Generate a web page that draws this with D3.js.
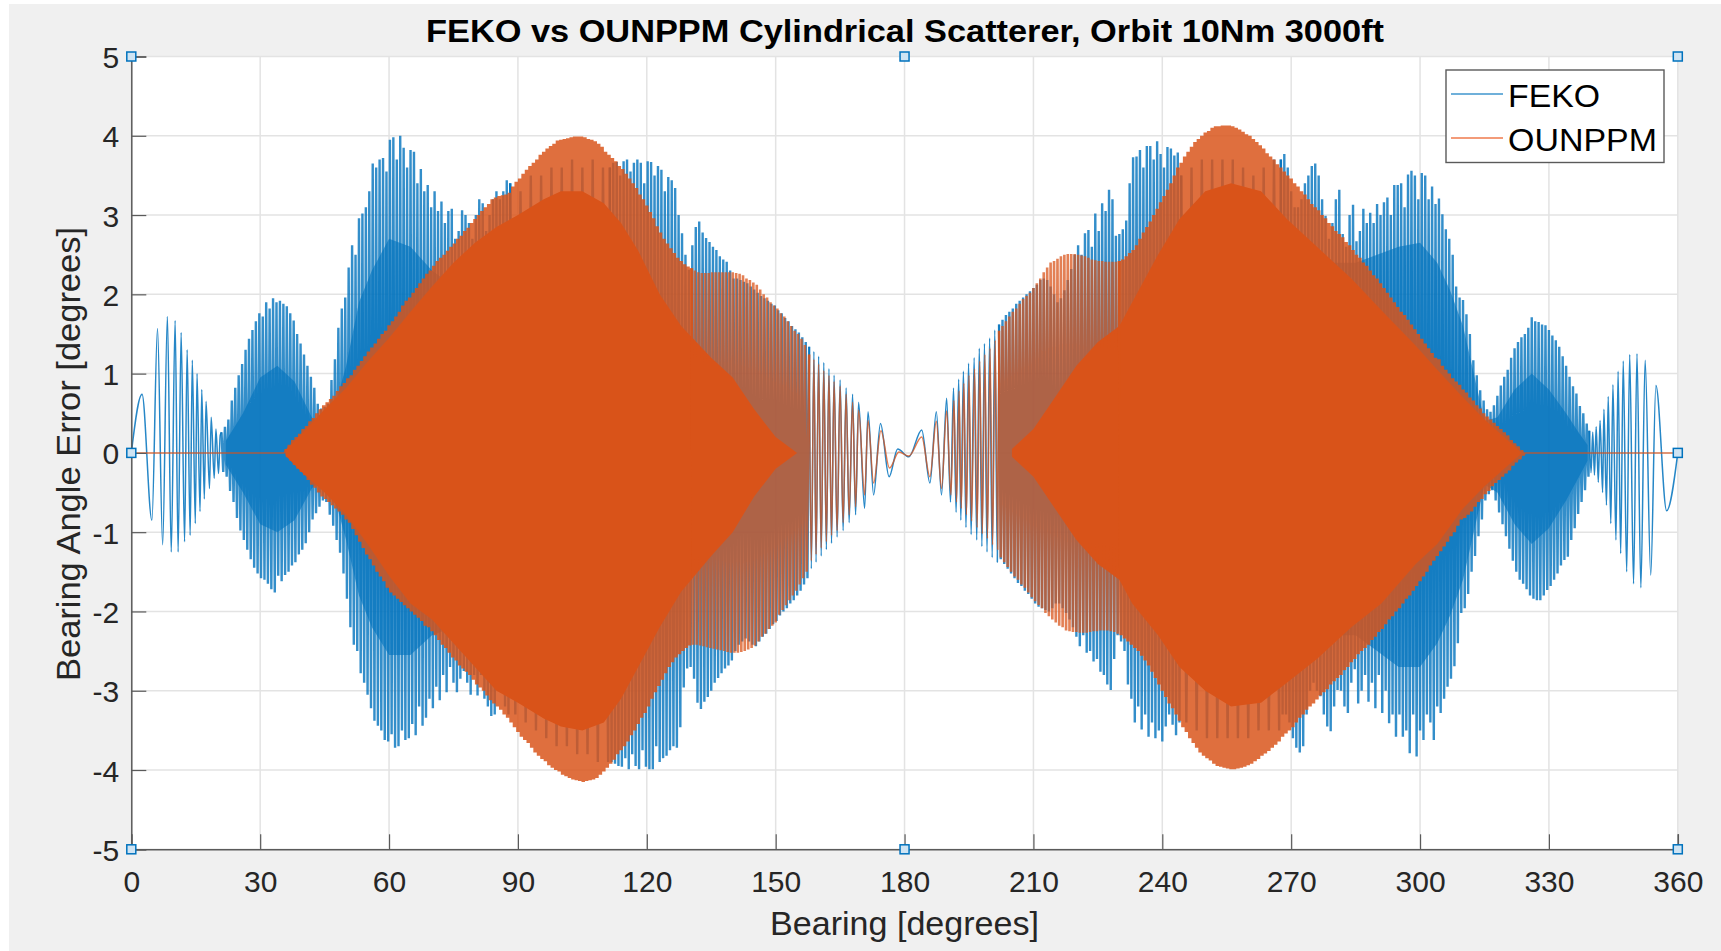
<!DOCTYPE html>
<html>
<head>
<meta charset="utf-8">
<script src="https://cdnjs.cloudflare.com/ajax/libs/d3/7.8.5/d3.min.js"></script>
<style>
html,body{margin:0;padding:0;background:#fff;overflow:hidden}
svg{display:block;font-family:"Liberation Sans",Arial,sans-serif}
.tick text{fill:#262626;font-size:30px}
.blue{fill:none;stroke:#0072BD;stroke-linejoin:bevel}
.bEdge{stroke-width:1.5;stroke-opacity:.85}
.bDense{stroke-width:2.4;stroke-opacity:.8}
.orange{fill:none;stroke:#D95319;stroke-linejoin:bevel}
.thick{stroke-width:3.5;stroke-opacity:.84}
.thin{stroke-width:2.6;stroke-opacity:.74}
.flat{stroke-width:1.5;stroke-opacity:.75}
</style>
</head>
<body>
<svg id="chart" width="1721" height="951"></svg>
<script>
const xTickValues = [0,30,60,90,120,150,180,210,240,270,300,330,360];
const yTickValues = [-5,-4,-3,-2,-1,0,1,2,3,4,5];
const titleText = "FEKO vs OUNPPM Cylindrical Scatterer, Orbit 10Nm 3000ft";
const xLabelText = "Bearing [degrees]";
const yLabelText = "Bearing Angle Error [degrees]";
const handleBearings = [0,180,360,0,360,0,180,360];
const handleErrors = [5,5,5,0,0,-5,-5,-5];

// FEKO: extremes read one by one where the swings are wide
const fekoEdgeLeftBearing = [0,2.5,4.8,6.1,7.3,8.4,9.3,10.2,10.9,11.6,12.4,13,13.7,14.2,14.9,15.3,16,16.4,17,17.4,18.2,18.6,19.3,19.7,20.3,20.7];
const fekoEdgeLeftError = [0,.74,-.85,1.57,-1.16,1.72,-1.25,1.67,-1.25,1.52,-1.12,1.3,-1.04,1.17,-.89,1,-.74,.8,-.58,.65,-.45,.45,-.32,.3,-.26,.22];
const fekoCentreBearing = [157.8,158.3,158.9,159.4,160,160.6,161.2,161.8,162.4,163,163.6,164.3,165,165.7,166.4,167.1,167.9,168.6,169.3,170.7,171.5,172.8,174.4,176.4,178.4,181,184,185.9,187.4,188.6,189.8,190.7,191.4,192,192.6,193.1,193.7,194.3,194.9,195.5,196.2,196.8,197.4,198,198.6,199.2,199.8,200.4,201,201.6];
const fekoCentreError = [1.34,-1.46,1.28,-1.38,1.22,-1.3,1.14,-1.22,1.06,-1.14,.98,-1.06,.92,-.98,.82,-.88,.74,-.78,.64,-.7,.52,-.53,.37,-.3,.05,-.05,.29,-.38,.52,-.53,.69,-.62,.82,-.75,.93,-.85,1.03,-.94,1.13,-1.03,1.2,-1.1,1.32,-1.18,1.38,-1.25,1.45,-1.32,1.55,-1.38];
const fekoEdgeRightBearing = [339.4,339.8,340.2,340.6,341,341.5,341.9,342.5,342.8,343.4,343.8,344.4,344.9,345.6,346.1,346.7,347.3,348.1,348.8,349.7,350.5,351.4,352.4,353.7,354.9,357.4,360];
const fekoEdgeRightError = [.28,-.25,.26,-.28,.33,-.37,.41,-.5,.55,-.66,.71,-.89,.86,-1.1,1.03,-1.27,1.16,-1.5,1.24,-1.65,1.25,-1.7,1.17,-1.54,.85,-.73,0];

// FEKO: dense swings, one reading every 0.4 degrees from 21
const fekoDenseA = [.26,-.24,.33,-.3,.42,-.48,.66,-.62,.82,-.82,.98,-.98,1.12,-1.1,1.3,-1.22,1.44,-1.34,1.55,-1.45,1.66,-1.52,1.76,-1.58,1.72,-1.6,1.9,-1.65,1.82,-1.72,1.95,-1.76,1.9,-1.55,1.92,-1.62,1.88,-1.54,1.85,-1.5,1.76,-1.42,1.67,-1.38,1.5,-1.28,1.38,-1.22,1.24,-1.14,1.1,-1,.96,-.84,.82,-.76,.62,-.68,.56,-.6,.58,-.62,.62,-.78,.92,-.92,1.18,-1.1,1.58,-1.26,1.82,-1.52,1.96,-1.84,2.34,-2.2,2.62,-2.42,2.5,-2.5,2.96,-2.78,3.02,-2.9,3.1,-3.05,3.3,-3.22,3.65,-3.38,3.6,-3.44,3.7,-3.5,3.72,-3.62,3.55,-3.64,3.95,-3.55,3.98,-3.72,3.7,-3.7,4,-3.5,3.85,-3.62,3.6,-3.6,3.82,-3.42,3.8,-3.56,3.4,-3.2,3.58,-3.44,3.3,-3.34,3.38,-3.1,3.1,-3.22,3.3,-2.95,3.05,-3.12,3.17,-2.8,2.9,-3.02,3.05,-2.7,3.08,-2.9,2.7,-3.02,2.8,-2.85,3.06,-2.75,3,-2.9,2.9,-3.05,2.7,-2.8,3,-3.06,3.2,-2.8,3.15,-3.1,2.8,-3.2,3,-3.32,3.2,-3.3,3.3,-3,3.2,-2.9,3.3,-3.2,3.44,-3.3];
// under OUNPPM, one reading every 1.2 degrees from 88.2
const fekoCoveredA = [3.4,-3.3,3.3,-3.4,3.5,-3.5,3.5,-3.6,3.6,-3.7,3.6,-3.7,3.7,-3.8,3.6,-3.8,3.7,-3.9,3.6,-3.9];
// one reading every 0.4 degrees from 111.4
const fekoDenseB = [3.6,-3.9,3.66,-3.92,3.67,-3.95,3.5,-3.96,3.68,-3.85,3.7,-3.99,3.55,-3.8,3.66,-3.95,3.7,-3.99,3.66,-3.75,3.4,-3.96,3.68,-3.99,3.67,-3.99,3.5,-3.7,3.62,-3.9,3.57,-3.85,3.3,-3.82,3.48,-3.75,3.44,-3.7,3.34,-3.72,3,-3.46,2.77,-2.96,2.5,-2.72,2.31,-2.7,2.62,-2.85,2.85,-3.15,2.92,-3.23,2.78,-3.14,2.71,-3.08,2.66,-3,2.6,-2.9,2.56,-2.84,2.48,-2.78,2.44,-2.72,2.41,-2.68,2.3,-2.62,2.2,-2.5,2.2,-2.42,2.18,-2.38,2.16,-2.34,2.14,-2.38,2.1,-2.42,2.06,-2.44,2.02,-2.38,1.98,-2.32,1.95,-2.28,1.92,-2.22,1.88,-2.16,1.86,-2.12,1.8,-2.05,1.76,-2,1.7,-1.96,1.66,-1.9,1.6,-1.86,1.56,-1.8,1.52,-1.74,1.46,-1.66,1.4,-1.58];
// one reading every 0.4 degrees from 202
const fekoDenseC = [1.62,-1.34,1.68,-1.4,1.74,-1.46,1.78,-1.52,1.82,-1.58,1.88,-1.64,1.92,-1.68,1.96,-1.74,2,-1.78,2.04,-1.84,2.08,-1.9,2.12,-1.94,2.18,-1.96,2.2,-1.98,2.18,-2,2.1,-1.96,2,-1.9,1.9,-1.9,1.95,-1.96,2.05,-2.02,2.18,-2.1,2.32,-2.2,2.5,-2.32,2.62,-2.44,2.5,-2.3,2.77,-2.52,2.81,-2.5,2.6,-2.63,3.02,-2.6,2.8,-2.76,3.15,-2.8,3.05,-2.92,3.32,-2.99,3.2,-2.6,2.74,-2.3,2.76,-2.38,2.82,-2.5,2.93,-2.92,3.4,-3.1,3.73,-3.4,3.74,-3.2,3.82,-3.49,3.6,-3.3,3.87,-3.58,3.87,-3.4,3.7,-3.6,3.93,-3.5,3.77,-3.64,3.6,-3.45,3.86,-3.3,3.84,-3.43,3.75,-3.56,3.79,-3.4];
// under OUNPPM, one reading every 1.2 degrees from 244.4
const fekoCoveredB = [3.5,-3.4,3.6,-3.5,3.7,-3.6,3.7,-3.6,3.7,-3.6,3.7,-3.6,3.6,-3.6,3.5,-3.5,3.6,-3.5,3.7,-3.5];
// one reading every 0.4 degrees from 267.6
const fekoDenseD = [3.7,-3.3,3.77,-3.3,3.6,-3.4,3.3,-3.6,3.1,-3.72,3.1,-3.78,3.2,-3.7,3.4,-3.3,3.5,-3,3.62,-2.9,3.65,-3,3.5,-3.07,3.2,-3.3,2.99,-3.45,2.7,-3.51,2.9,-3.2,3.2,-2.99,3.32,-3,2.76,-3.2,2.6,-3.28,3,-2.9,3.13,-2.73,2.67,-3.16,2.8,-3,3.08,-2.8,2.9,-3.14,3.03,-2.9,2.9,-3.22,3.14,-2.8,3,-3.28,3.16,-3,3.22,-3.41,3,-3.3,3.38,-3.58,3.38,-3.3,3.4,-3.58,3.1,-3.5,3.51,-3.79,3.56,-3.3,3.5,-3.83,3.2,-3.5,3.53,-3.62,3.5,-3.3,3.2,-3.4,3.36,-3.62,3.14,-3.2,3.21,-3.28,3.01,-3.1,2.82,-2.95,2.7,-2.85,2.5,-2.69,2.1,-2.4,1.96,-2.02,1.93,-1.96,1.75,-1.78,1.5,-1.5,1.17,-1.3,.98,-1.05,.79,-.84,.66,-.6,.55,-.52,.52,-.47,.6,-.6,.72,-.75,.85,-.9,.96,-1.05,1.05,-1.21,1.2,-1.36,1.32,-1.5,1.4,-1.6,1.46,-1.65,1.5,-1.72,1.58,-1.8,1.71,-1.84,1.66,-1.86,1.65,-1.86,1.62,-1.8,1.61,-1.73,1.55,-1.68,1.48,-1.6,1.42,-1.52,1.34,-1.42,1.22,-1.35,1.1,-1.31,.96,-1.1,.84,-.95,.75,-.77,.59,-.62,.5,-.47,.37,-.3];

// FEKO: extent of the solid part of the trace, where the swings merge
const fekoCoreLeftBearing = [22,26,30,34,38,42,45,48,50,53,56,60,65,70,75,80,85];
const fekoCoreLeftUpper = [.15,.5,.95,1.1,.9,.45,.3,.7,1.1,1.9,2.3,2.7,2.6,2.3,2.1,2.1,2.2];
const fekoCoreLeftLower = [-.15,-.5,-.9,-1,-.85,-.45,-.3,-.7,-1.1,-1.8,-2.2,-2.55,-2.55,-2.3,-2.2,-2.2,-2.3];
const fekoCoreRightBearing = [275,280,285,290,295,300,304,307,310,312.5,315,318,322,326,330,334,337,339];
const fekoCoreRightUpper = [2.5,2.4,2.4,2.5,2.6,2.65,2.4,2.05,1.6,1,.4,.45,.8,1,.8,.5,.25,.1];
const fekoCoreRightLower = [-2.5,-2.3,-2.3,-2.5,-2.7,-2.7,-2.4,-2.05,-1.6,-1,-.4,-.5,-.9,-1.15,-.95,-.6,-.3,-.1];

// OUNPPM
const ounppmFlatLeftBearing = [0,35.6];
const ounppmFlatLeftError = [0,0];
const ounppmFlatRightBearing = [324.2,360];
const ounppmFlatRightError = [0,0];
const ounppmCentreBearing = [157.8,158.3,158.9,159.4,160,160.6,161.2,161.8,162.4,163,163.6,164.3,165,165.7,166.4,167.1,167.9,168.6,169.3,170.7,171.5,172.8,174.5,176.5,178.7,181,184,185.9,187.4,188.6,189.8,190.8,191.5,192.1,192.7,193.2,193.8,194.4,195,195.6,196.3,196.9,197.5,198.1,198.7,199.3,199.9,200.5,201.1,201.7];
const ounppmCentreError = [1.24,-1.36,1.18,-1.28,1.12,-1.2,1.04,-1.12,.98,-1.04,.9,-.98,.84,-.88,.74,-.78,.64,-.68,.54,-.53,.41,-.38,.28,-.19,.01,-.04,.2,-.3,.4,-.45,.53,-.53,.66,-.62,.78,-.7,.88,-.78,.98,-.86,1.06,-.94,1.16,-1.02,1.24,-1.08,1.32,-1.16,1.42,-1.22];
// one reading every 0.4 degrees from 36
const ounppmDenseA = [.05,-.05,.1,-.1,.16,-.15,.2,-.2,.24,-.24,.3,-.28,.34,-.34,.4,-.4,.44,-.44,.5,-.5,.55,-.55,.6,-.58,.64,-.62,.68,-.66,.72,-.7,.78,-.74,.84,-.78,.88,-.84,.94,-.88,.98,-.96,1.05,-1.04,1.1,-1.12,1.16,-1.2,1.22,-1.28,1.28,-1.34,1.33,-1.42,1.38,-1.5,1.44,-1.56,1.5,-1.62,1.54,-1.7,1.61,-1.76,1.66,-1.8,1.72,-1.84,1.78,-1.88,1.86,-1.92,1.92,-1.96,1.96,-2,2.02,-2.04,2.08,-2.08,2.14,-2.12,2.2,-2.18,2.26,-2.2,2.3,-2.25,2.36,-2.3,2.42,-2.36,2.46,-2.42,2.5,-2.46,2.55,-2.52,2.6,-2.58,2.64,-2.62,2.7,-2.68,2.74,-2.72,2.8,-2.76,2.84,-2.8,2.9,-2.86,2.95,-2.92,3,-2.96,3.05,-3,3.1,-3.06,3.14,-3.12,3.2,-3.16,3.22,-3.2,3.24,-3.24,3.25,-3.3,3.26,-3.34,3.28,-3.4,3.36,-3.46,3.42,-3.52,3.46,-3.58,3.52,-3.62,3.57,-3.66,3.62,-3.72,3.66,-3.78,3.7,-3.82,3.76,-3.86,3.8,-3.89,3.84,-3.94,3.87,-3.97,3.9,-4,3.94,-4.02,3.95,-4.06,3.96,-4.08,3.97,-4.1,3.98,-4.12,3.99,-4.13,3.99,-4.14,3.99,-4.15,3.98,-4.14,3.96,-4.13,3.95,-4.12,3.93,-4.1,3.9,-4.06,3.86,-4.02,3.8,-3.97,3.76,-3.92,3.72,-3.87,3.68,-3.8,3.62,-3.75,3.58,-3.7,3.52,-3.64,3.46,-3.56,3.4,-3.5,3.34,-3.42,3.26,-3.34,3.2,-3.28,3.12,-3.2,3.04,-3.1,2.96,-3.02,2.86,-2.94,2.78,-2.86,2.7,-2.78,2.64,-2.7,2.58,-2.64,2.52,-2.58,2.46,-2.54,2.42,-2.5,2.38,-2.46,2.35,-2.43];
// one reading every 0.4 degrees from 130.4
const ounppmThinA = [2.33,-2.42,2.3,-2.42,2.28,-2.43,2.27,-2.44,2.27,-2.45,2.27,-2.46,2.28,-2.47,2.28,-2.48,2.28,-2.49,2.28,-2.5,2.28,-2.51,2.28,-2.52,2.28,-2.52,2.27,-2.52,2.26,-2.51,2.24,-2.5,2.2,-2.48,2.18,-2.46,2.15,-2.43,2.12,-2.38,2.06,-2.32,2,-2.28,1.96,-2.22,1.9,-2.18,1.86,-2.14,1.82,-2.04,1.76,-1.98,1.72,-1.92,1.66,-1.86,1.6,-1.8,1.54,-1.74,1.5,-1.66,1.44,-1.58,1.36,-1.5];
// one reading every 0.4 degrees from 202
const ounppmThinB = [1.54,-1.32,1.6,-1.38,1.66,-1.44,1.72,-1.5,1.78,-1.56,1.82,-1.6,1.88,-1.66,1.94,-1.7,1.98,-1.76,2.02,-1.82,2.08,-1.87,2.14,-1.92,2.2,-1.96,2.28,-2.02,2.34,-2.06,2.4,-2.1,2.42,-2.14,2.45,-2.18,2.48,-2.2,2.5,-2.24,2.51,-2.25,2.51,-2.26,2.51,-2.26,2.5,-2.27,2.49,-2.27,2.48,-2.27,2.46,-2.26,2.44,-2.25,2.43,-2.25,2.42,-2.24,2.42,-2.24,2.41,-2.24,2.41,-2.25,2.41,-2.26,2.41,-2.28];
// one reading every 0.4 degrees from 230
const ounppmDenseB = [2.42,-2.3,2.44,-2.34,2.48,-2.38,2.52,-2.42,2.56,-2.46,2.62,-2.5,2.7,-2.56,2.78,-2.62,2.85,-2.68,2.92,-2.76,3,-2.84,3.08,-2.92,3.16,-3,3.24,-3.08,3.32,-3.16,3.4,-3.22,3.5,-3.3,3.6,-3.38,3.66,-3.46,3.74,-3.52,3.8,-3.6,3.86,-3.66,3.92,-3.72,3.96,-3.78,4,-3.82,4.04,-3.85,4.06,-3.88,4.1,-3.92,4.12,-3.95,4.12,-3.96,4.13,-3.97,4.13,-3.98,4.13,-3.99,4.12,-3.99,4.1,-3.98,4.08,-3.97,4.05,-3.96,4.02,-3.94,4,-3.92,3.96,-3.89,3.92,-3.86,3.88,-3.82,3.84,-3.79,3.78,-3.76,3.74,-3.72,3.7,-3.68,3.64,-3.64,3.6,-3.58,3.55,-3.54,3.5,-3.5,3.46,-3.46,3.4,-3.4,3.36,-3.34,3.3,-3.3,3.26,-3.24,3.2,-3.2,3.14,-3.16,3.1,-3.11,3.06,-3.06,3,-3.02,2.96,-2.98,2.9,-2.92,2.86,-2.88,2.8,-2.84,2.76,-2.8,2.72,-2.74,2.66,-2.7,2.62,-2.64,2.56,-2.6,2.5,-2.54,2.46,-2.5,2.4,-2.46,2.36,-2.42,2.3,-2.36,2.24,-2.32,2.2,-2.26,2.14,-2.22,2.08,-2.16,2.02,-2.1,1.96,-2.06,1.9,-2,1.84,-1.96,1.78,-1.9,1.74,-1.84,1.68,-1.8,1.62,-1.74,1.56,-1.68,1.5,-1.62,1.44,-1.56,1.38,-1.5,1.32,-1.42,1.26,-1.36,1.2,-1.3,1.18,-1.24,1.1,-1.18,1.05,-1.12,1,-1.05,.94,-1,.9,-.92,.86,-.84,.8,-.82,.76,-.78,.7,-.74,.66,-.68,.6,-.62,.56,-.58,.5,-.52,.46,-.48,.42,-.42,.38,-.38,.34,-.34,.3,-.3,.26,-.26,.22,-.22,.16,-.16,.12,-.12,.08,-.08,.03,-.03];

// OUNPPM: extent of the solid part of the trace, where the swings merge
const ounppmCoreLeftBearing = [36,40,45,50,55,60,65,70,75,80,85,90,96,100,105,110,114,118,123,128,135,140,145,150,155];
const ounppmCoreLeftUpper = [.04,.26,.55,.82,1.15,1.45,1.78,2.1,2.4,2.65,2.85,3,3.2,3.3,3.3,3.15,2.9,2.55,2,1.6,1.2,.95,.55,.2,0];
const ounppmCoreLeftLower = [-.04,-.26,-.5,-.78,-1.15,-1.55,-1.9,-2.1,-2.4,-2.7,-3,-3.15,-3.35,-3.45,-3.5,-3.4,-3.1,-2.7,-2.2,-1.75,-1.3,-1,-.55,-.2,0];
const ounppmCoreRightBearing = [205,210,215,220,225,230,233,239,244,250,256,263,269,276,284,291,299,304,310,315,320,323.7];
const ounppmCoreRightUpper = [.05,.3,.7,1.1,1.4,1.6,1.9,2.5,2.95,3.3,3.4,3.3,2.95,2.6,2.2,1.8,1.35,1.05,.7,.42,.18,0];
const ounppmCoreRightLower = [-.05,-.3,-.7,-1.1,-1.4,-1.6,-1.9,-2.3,-2.7,-3,-3.2,-3.15,-2.9,-2.6,-2.2,-1.9,-1.4,-1.15,-.7,-.42,-.18,0];

const svg = d3.select("#chart");
const W = 1721, H = 951;
const plot = {left:131.3, right:1677.8, top:56.5, bottom:849.3};

svg.append("rect").attr("x",9).attr("y",4).attr("width",W-9).attr("height",H-4).attr("fill","#f0f0f0");
svg.append("rect").attr("x",plot.left).attr("y",plot.top).attr("width",plot.right-plot.left).attr("height",plot.bottom-plot.top).attr("fill","#fff");

const x = d3.scaleLinear().domain([0,360]).range([plot.left,plot.right]);
const y = d3.scaleLinear().domain([-5,5]).range([plot.bottom,plot.top]);

// grid
const grid = svg.append("g").attr("stroke","#e3e3e3").attr("stroke-width",1.5);
grid.selectAll(".gx").data(xTickValues).join("line").attr("x1",d=>x(d)).attr("x2",d=>x(d)).attr("y1",plot.top).attr("y2",plot.bottom);
grid.selectAll(".gy").data(yTickValues).join("line").attr("y1",d=>y(d)).attr("y2",d=>y(d)).attr("x1",plot.left).attr("x2",plot.right);

// series
const zip = (xs,ys)=>ys.map((v,i)=>[xs[i],v]);
const dense = (start,step,ys)=>ys.map((v,i)=>[start+i*step,v]);
const lineSharp = d3.line().x(d=>x(d[0])).y(d=>y(d[1]));
const lineSmooth = d3.line().x(d=>x(d[0])).y(d=>y(d[1])).curve(d3.curveMonotoneX);
const coreArea = d3.area().x(d=>x(d[0])).y0(d=>y(d[2])).y1(d=>y(d[1]));
const coreRows = (xs,up,lo)=>xs.map((b,i)=>[b,up[i],lo[i]]);

const fekoParts = [
  {pts:zip(fekoEdgeLeftBearing,fekoEdgeLeftError),gen:lineSmooth,cls:"bEdge"},
  {pts:dense(21,.4,fekoDenseA),gen:lineSharp,cls:"bDense"},
  {pts:dense(88.2,1.2,fekoCoveredA),gen:lineSharp,cls:"bDense"},
  {pts:dense(111.4,.4,fekoDenseB),gen:lineSharp,cls:"bDense"},
  {pts:zip(fekoCentreBearing,fekoCentreError),gen:lineSmooth,cls:"bEdge"},
  {pts:dense(202,.4,fekoDenseC),gen:lineSharp,cls:"bDense"},
  {pts:dense(244.4,1.2,fekoCoveredB),gen:lineSharp,cls:"bDense"},
  {pts:dense(267.6,.4,fekoDenseD),gen:lineSharp,cls:"bDense"},
  {pts:zip(fekoEdgeRightBearing,fekoEdgeRightError),gen:lineSmooth,cls:"bEdge"}
];
const ounppmParts = [
  {pts:zip(ounppmFlatLeftBearing,ounppmFlatLeftError),gen:lineSharp,cls:"flat"},
  {pts:dense(36,.4,ounppmDenseA),gen:lineSharp,cls:"thick"},
  {pts:dense(130.4,.4,ounppmThinA),gen:lineSharp,cls:"thin"},
  {pts:zip(ounppmCentreBearing,ounppmCentreError),gen:lineSmooth,cls:"flat"},
  {pts:dense(202,.4,ounppmThinB),gen:lineSharp,cls:"thin"},
  {pts:dense(230,.4,ounppmDenseB),gen:lineSharp,cls:"thick"},
  {pts:zip(ounppmFlatRightBearing,ounppmFlatRightError),gen:lineSharp,cls:"flat"}
];
const withJoin = parts => parts.map((p,i)=>({...p,pts:i<parts.length-1?p.pts.concat([parts[i+1].pts[0]]):p.pts}));

svg.append("g").selectAll("path").data([coreRows(fekoCoreLeftBearing,fekoCoreLeftUpper,fekoCoreLeftLower),coreRows(fekoCoreRightBearing,fekoCoreRightUpper,fekoCoreRightLower)]).join("path")
  .attr("fill","#0072BD").attr("fill-opacity",.6).attr("d",coreArea);
svg.append("g").selectAll("path").data(withJoin(fekoParts)).join("path")
  .attr("class",d=>"blue "+d.cls).attr("d",d=>d.gen(d.pts));
svg.append("g").selectAll("path").data([coreRows(ounppmCoreLeftBearing,ounppmCoreLeftUpper,ounppmCoreLeftLower),coreRows(ounppmCoreRightBearing,ounppmCoreRightUpper,ounppmCoreRightLower)]).join("path")
  .attr("fill","#D95319").attr("d",coreArea);
svg.append("g").selectAll("path").data(withJoin(ounppmParts)).join("path")
  .attr("class",d=>"orange "+d.cls).attr("d",d=>d.gen(d.pts));

// axes
const ax = svg.append("g").attr("transform",`translate(0,${plot.bottom})`)
  .call(d3.axisBottom(x).tickValues(xTickValues).tickSize(-15).tickPadding(0).tickFormat(d3.format("d")));
const ay = svg.append("g").attr("transform",`translate(${plot.left},0)`)
  .call(d3.axisLeft(y).tickValues(yTickValues).tickSize(-15).tickPadding(0).tickFormat(d=>String(d)));
[ax,ay].forEach(a=>{
  a.attr("font-family",null).attr("font-size",null);
  a.selectAll(".domain").attr("stroke","#5a5a5a").attr("stroke-width",1.5);
  a.selectAll(".tick line").attr("stroke","#5a5a5a").attr("stroke-width",1.2);
});
ax.selectAll(".tick text").attr("y",0).attr("dy",null).attr("transform","translate(0,42.5)").attr("text-anchor","middle");
ay.selectAll(".tick text").attr("x",-12).attr("dy",null).attr("transform","translate(0,11)").attr("text-anchor","end");

// handles
svg.append("g").selectAll("rect").data(handleBearings.map((b,i)=>[b,handleErrors[i]])).join("rect")
  .attr("x",d=>x(d[0])-4.5).attr("y",d=>y(d[1])-4.5).attr("width",9).attr("height",9)
  .attr("fill","#cfe4f3").attr("stroke","#0072BD").attr("stroke-width",1.5);

// text
const label = (txt,size,len,attrs,weight)=>{
  const t = svg.append("text").text(txt).attr("font-size",size).attr("textLength",len)
    .attr("lengthAdjust","spacingAndGlyphs").attr("text-anchor","middle").attr("fill",attrs.fill||"#262626");
  if(weight) t.attr("font-weight",weight);
  if(attrs.transform) t.attr("transform",attrs.transform); else t.attr("x",attrs.x).attr("y",attrs.y);
  return t;
};
label(titleText,32,958,{x:905,y:42,fill:"#000"},"bold");
label(xLabelText,33,269,{x:904.5,y:935});
label(yLabelText,33,454,{transform:"translate(80,454) rotate(-90)"});

// legend
const legend = svg.append("g");
legend.append("rect").attr("x",1446).attr("y",70).attr("width",218).attr("height",92.5)
  .attr("fill","#fff").attr("stroke","#5a5a5a").attr("stroke-width",1.4);
const legendNames = ["FEKO","OUNPPM"];
const legendColors = ["#6fb0da","#ef7a4d"];
const legendY = d3.scalePoint().domain(legendNames).range([94,138]);
const legendWidths = [92,149];
legendNames.forEach((n,i)=>{
  legend.append("line").attr("x1",1451).attr("x2",1503).attr("y1",legendY(n)).attr("y2",legendY(n))
    .attr("stroke",legendColors[i]).attr("stroke-width",i?1.5:2);
  legend.append("text").text(n).attr("x",1508).attr("y",legendY(n)+13).attr("font-size",31.5)
    .attr("textLength",legendWidths[i]).attr("lengthAdjust","spacingAndGlyphs").attr("fill","#000");
});
</script>
</body>
</html>
